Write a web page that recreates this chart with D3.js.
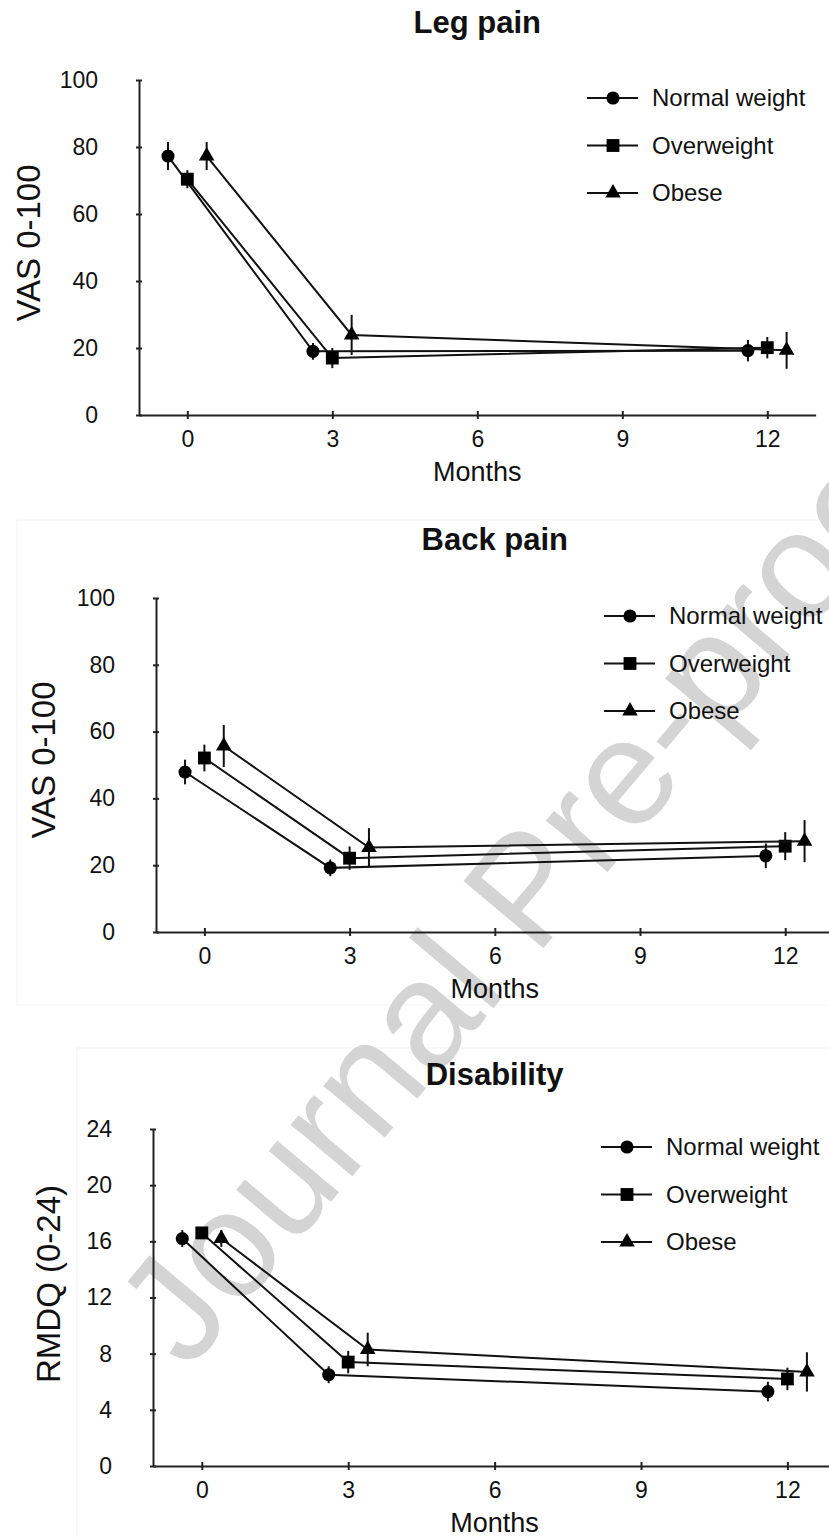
<!DOCTYPE html>
<html>
<head>
<meta charset="utf-8">
<script src="https://cdn.jsdelivr.net/npm/d3@7"></script>
<style>
  body { margin: 0; background: #fff; }
  svg { display: block; }
  text { font-family: 'Liberation Sans', Arial, sans-serif; fill: #111; }
</style>
</head>
<body>
<div id="chart"></div>
<script>
// data (mean and error, per weight group, at 0/3/12 months)
const months = [0, 3, 12];
const groups = ['Normal weight', 'Overweight', 'Obese'];
const groupShift = [-0.4, 0, 0.4];
const xTicks = [0, 3, 6, 9, 12];

const legMean = [[77.3, 19.0, 19.2], [70.4, 17.0, 20.1], [77.3, 23.9, 19.3]];
const legErr  = [[4.2, 2.5, 3.2], [2.7, 3.0, 3.2], [4.2, 6.0, 5.5]];

const backMean = [[47.9, 19.2, 22.8], [52.1, 22.1, 25.7], [55.7, 25.3, 27.2]];
const backErr  = [[3.7, 2.5, 3.7], [4.0, 3.5, 4.2], [6.3, 5.8, 6.3]];

const disMean = [[16.2, 6.5, 5.3], [16.6, 7.4, 6.2], [16.2, 8.3, 6.7]];
const disErr  = [[0.6, 0.6, 0.7], [0.3, 0.8, 0.8], [0.6, 1.2, 1.4]];

const vasTicks = [0, 20, 40, 60, 80, 100];
const rmdqTicks = [0, 4, 8, 12, 16, 20, 24];

const W = 829, H = 1537;
const svg = d3.select('#chart').append('svg').attr('width', W).attr('height', H);

// faint edges of the pasted panels
svg.append('rect').attr('x', 17).attr('y', 520).attr('width', 900).attr('height', 485)
  .attr('fill', 'none').attr('stroke', '#f4f4f4');
svg.append('rect').attr('x', 77).attr('y', 1048).attr('width', 900).attr('height', 600)
  .attr('fill', 'none').attr('stroke', '#f4f4f4');

// watermark
svg.append('text')
  .attr('transform', 'translate(188,1372) rotate(-50)')
  .attr('font-size', 152)
  .style('fill', '#d4d4d4')
  .text('Journal Pre-proof');

const panels = [
  {title: 'Leg pain', yLabel: 'VAS 0-100', mean: legMean, err: legErr, yMax: 100, yTicks: vasTicks,
   left: 139, unit: 48.33, top: 80, bottom: 415, titleY: 33, yLabelX: 40, yLabelY: 243},
  {title: 'Back pain', yLabel: 'VAS 0-100', mean: backMean, err: backErr, yMax: 100, yTicks: vasTicks,
   left: 156, unit: 48.4, top: 598, bottom: 932, titleY: 550, yLabelX: 55, yLabelY: 760},
  {title: 'Disability', yLabel: 'RMDQ (0-24)', mean: disMean, err: disErr, yMax: 24, yTicks: rmdqTicks,
   left: 153, unit: 48.8, top: 1129, bottom: 1466, titleY: 1085, yLabelX: 60, yLabelY: 1284}
];

const symbols = [d3.symbolCircle, d3.symbolSquare, d3.symbolTriangle];
const symSize = [135, 165, 105];

panels.forEach(p => {
  const x = d3.scaleLinear().domain([-1, 13]).range([p.left, p.left + 14 * p.unit]);
  const y = d3.scaleLinear().domain([0, p.yMax]).range([p.bottom, p.top]);
  const g = svg.append('g');

  g.append('text')
    .attr('x', (x(-1) + x(13)) / 2).attr('y', p.titleY)
    .attr('text-anchor', 'middle').attr('font-size', 31).attr('font-weight', 700)
    .text(p.title);

  const xa = g.append('g').attr('transform', `translate(0,${p.bottom})`)
    .call(d3.axisBottom(x).tickValues(xTicks).tickSizeOuter(0));
  xa.selectAll('.tick line').attr('y1', -4).attr('y2', 4);
  xa.selectAll('.tick text').attr('y', 32).attr('dy', null).attr('font-size', 23);

  const ya = g.append('g').attr('transform', `translate(${p.left},0)`)
    .call(d3.axisLeft(y).tickValues(p.yTicks).tickSizeOuter(0));
  ya.selectAll('.tick line').attr('x1', -3).attr('x2', 3);
  ya.selectAll('.tick text').attr('x', -41).attr('font-size', 23);

  [xa, ya].forEach(a => {
    a.attr('font-family', null);
    a.select('.domain').attr('stroke', '#222').attr('stroke-width', 2);
    a.selectAll('.tick line').attr('stroke', '#222').attr('stroke-width', 2);
    a.selectAll('.tick text').style('fill', '#111');
  });

  g.append('text')
    .attr('x', x(6)).attr('y', p.bottom + 66)
    .attr('text-anchor', 'middle').attr('font-size', 27)
    .text('Months');

  g.append('text')
    .attr('transform', `translate(${p.yLabelX},${p.yLabelY}) rotate(-90)`)
    .attr('text-anchor', 'middle').attr('font-size', 33)
    .text(p.yLabel);

  const line = d3.line().x(d => x(d.t)).y(d => y(d.v));

  groups.forEach((name, gi) => {
    const pts = months.map((m, i) => ({t: m + groupShift[gi], v: p.mean[gi][i], e: p.err[gi][i]}));

    g.append('path').datum(pts)
      .attr('d', line).attr('fill', 'none')
      .attr('stroke', '#111').attr('stroke-width', 2);

    g.selectAll(null).data(pts).enter().append('line')
      .attr('x1', d => x(d.t)).attr('x2', d => x(d.t))
      .attr('y1', d => y(d.v - d.e)).attr('y2', d => y(d.v + d.e))
      .attr('stroke', '#111').attr('stroke-width', 2);

    g.selectAll(null).data(pts).enter().append('path')
      .attr('d', d3.symbol(symbols[gi], symSize[gi]))
      .attr('transform', d => `translate(${x(d.t)},${y(d.v)})`)
      .attr('fill', '#000');

    // legend
    const ly = p.top + 18 + gi * 47.5;
    const lx = p.left + 448;
    g.append('line').attr('x1', lx).attr('x2', lx + 51).attr('y1', ly).attr('y2', ly)
      .attr('stroke', '#111').attr('stroke-width', 2);
    g.append('path').attr('d', d3.symbol(symbols[gi], symSize[gi]))
      .attr('transform', `translate(${lx + 26},${ly})`).attr('fill', '#000');
    g.append('text').attr('x', p.left + 513).attr('y', ly).attr('dy', '0.35em')
      .attr('font-size', 24).text(name);
  });
});
</script>
</body>
</html>
